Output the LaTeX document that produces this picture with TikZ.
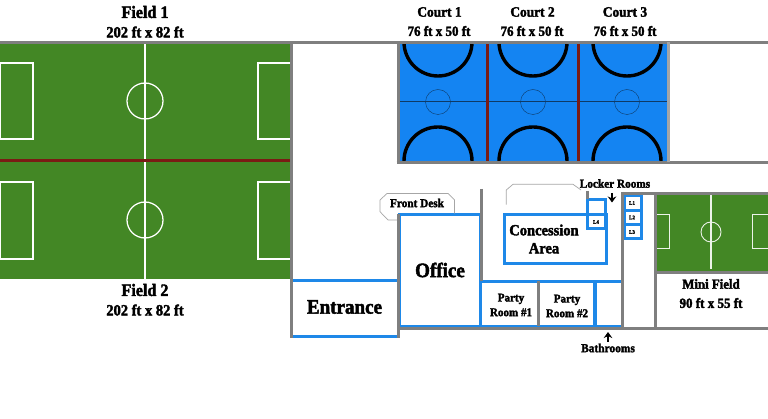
\documentclass[tikz,border=0pt]{standalone}
\usepackage{fontspec}
\setmainfont{Liberation Serif}[BoldFeatures={FakeBold=2.2,FakeStretch=0.93}]
\definecolor{wallgray}{HTML}{7F7F7F}
\definecolor{grass}{HTML}{438725}
\definecolor{maroon}{HTML}{7A1B14}
\definecolor{courtblue}{HTML}{1484F2}
\definecolor{roomblue}{HTML}{1E88E8}
\definecolor{navyline}{HTML}{0E3A66}
\definecolor{calloutgray}{HTML}{A6A6A6}
\usetikzlibrary{arrows.meta}
\tikzset{
  wall/.style={draw=wallgray,line width=3pt},
  roomline/.style={draw=roomblue,line width=3pt},
  chalk/.style={draw=white,line width=1.25pt},
  minichalk/.style={draw=white!90!grass,line width=0.9pt},
  divider/.style={draw=maroon,line width=3pt},
  hoop/.style={draw=black,line width=3.4pt},
  courtmark/.style={draw=navyline,line width=0.4pt},
  callout/.style={draw=calloutgray,line width=0.7pt},
  pointer/.style={draw=black,line width=2pt,-{Stealth[length=6pt,width=8.5pt]}},
  lab/.style={font=\bfseries,inner sep=0pt,align=center,text=black}
}
\begin{document}
\begin{tikzpicture}[x=1pt,y=-1pt]
\useasboundingbox (0,0) rectangle (768,419);
\fill[white] (0,0) rectangle (768,419);
% fields
\fill[grass] (0,43) rectangle (290,279);
\draw[chalk] (145,43) -- (145,279);
\foreach \cy/\ya/\yb in {101/63/139,220/182/259}{
  \draw[chalk] (145,\cy) circle (18);
  \draw[chalk] (0.8,\ya) rectangle (33,\yb);
  \draw[chalk] (290,\ya) -- (258,\ya) -- (258,\yb) -- (290,\yb);
}
\draw[divider] (0,160.5) -- (290,160.5);
% courts
\fill[courtblue] (398,43) rectangle (668,162);
\begin{scope}
  \clip (398,43) rectangle (668,162);
  \foreach \cx in {438,533,627}{
    \draw[hoop] (\cx,42) circle (34);
    \draw[hoop] (\cx,161) circle (34);
    \draw[courtmark] (\cx,102) circle (12.5);
  }
\end{scope}
\draw[draw=navyline,line width=1pt] (399,102) -- (667,102);
\draw[divider] (487,43) -- (487,162);
\draw[divider] (578,43) -- (578,162);
% mini field
\fill[grass] (655,194) rectangle (768,272);
\draw[minichalk,line width=1.1pt] (711,194) -- (711,269);
\draw[minichalk] (711,232) circle (10);
\draw[minichalk] (656,214) -- (669.7,214) -- (669.7,248) -- (656,248);
\draw[minichalk] (768,214) -- (752.7,214) -- (752.7,248) -- (768,248);
% blue rooms
\draw[roomline] (399.5,215) rectangle (480,326.5);
\draw[roomline] (291,280.5) -- (397,280.5);
\draw[roomline] (291,336.5) -- (397,336.5);
\draw[roomline] (481,281.5) -- (621,281.5);
\draw[roomline] (481,326.5) -- (621,326.5);
\draw[roomline,line width=4pt] (595,281.5) -- (595,326.5);
\draw[roomline] (504,214.5) rectangle (606,263.5);
\draw[roomline] (587.5,200) rectangle (605.5,229);
\draw[roomline] (587.5,214.5) -- (605.5,214.5);
\draw[roomline] (624,196) rectangle (641,239);
\draw[roomline] (624,210.5) -- (641,210.5);
\draw[roomline] (624,225) -- (641,225);
% walls
\draw[wall] (0,42.5) -- (768,42.5);
\draw[wall] (291.5,42.5) -- (291.5,338);
\draw[wall] (398,42.5) -- (398,163);
\draw[wall] (396.5,162.5) -- (768,162.5);
\draw[wall,draw=wallgray!70] (668,42.5) -- (668,162);
\draw[wall] (398,214) -- (398,338);
\draw[wall] (397,328.5) -- (768,328.5);
\draw[wall] (481,189) -- (481,281);
\draw[wall] (538.7,281) -- (538.7,326);
\draw[wall] (587,191) -- (587,199);
\draw[wall] (622.5,192) -- (622.5,328);
\draw[wall] (621,193.5) -- (768,193.5);
\draw[wall] (655,193) -- (655,328);
\draw[wall] (655,272.5) -- (768,272.5);
% callouts
\draw[callout] (397,220) -- (388,220) -- (380,211.7) -- (380,200) -- (387,193.5) -- (448,193.5) -- (454.5,200) -- (454.5,213.5);
\draw[callout] (506.3,204.7) -- (506.3,190) -- (513,184.3) -- (573,184.3) -- (581,190);
% labels
\node[lab,font=\bfseries\fontsize{17.3}{17.3}\selectfont] (field1) at (145,12) {Field 1};
\node[lab,font=\bfseries\fontsize{15.6}{15.6}\selectfont] (field1size) at (145,32) {202 ft x 82 ft};
\node[lab,font=\bfseries\fontsize{17.3}{17.3}\selectfont] (field2) at (145,290) {Field 2};
\node[lab,font=\bfseries\fontsize{15.6}{15.6}\selectfont] (field2size) at (145,310) {202 ft x 82 ft};
\node[lab,font=\bfseries\fontsize{14.4}{14.4}\selectfont] (court1) at (439.5,12) {Court 1};
\node[lab,font=\bfseries\fontsize{14.4}{14.4}\selectfont] (court2) at (532.5,12) {Court 2};
\node[lab,font=\bfseries\fontsize{14.4}{14.4}\selectfont] (court3) at (625,12) {Court 3};
\node[lab,font=\bfseries\fontsize{14}{14}\selectfont] (court1size) at (439,31) {76 ft x 50 ft};
\node[lab,font=\bfseries\fontsize{14}{14}\selectfont] (court2size) at (532,31) {76 ft x 50 ft};
\node[lab,font=\bfseries\fontsize{14}{14}\selectfont] (court3size) at (625,31) {76 ft x 50 ft};
\node[lab,font=\bfseries\fontsize{20.5}{20.5}\selectfont] (entrance) at (344.5,307) {Entrance};
\node[lab,font=\bfseries\fontsize{20.5}{20.5}\selectfont] (office) at (440,270) {Office};
\node[lab,font=\bfseries\fontsize{12.1}{12.1}\selectfont] (frontdesk) at (417,203) {Front Desk};
\node[lab,font=\bfseries\fontsize{15.6}{18}\selectfont] (concession) at (544,239) {Concession\\Area};
\node[lab,font=\bfseries\fontsize{11.9}{14.7}\selectfont] (party1) at (511,305) {Party\\Room \#1};
\node[lab,font=\bfseries\fontsize{11.9}{14.7}\selectfont] (party2) at (567,306) {Party\\Room \#2};
\node[lab,font=\bfseries\fontsize{12.1}{12.1}\selectfont] (lockers) at (615,183.5) {Locker Rooms};
\node[lab,font=\bfseries\fontsize{12.3}{12.3}\selectfont] (bathrooms) at (608,348) {Bathrooms};
\node[lab,font=\bfseries\fontsize{5.5}{5.5}\selectfont] (l1) at (632,203) {L1};
\node[lab,font=\bfseries\fontsize{5.5}{5.5}\selectfont] (l2) at (632,217.5) {L2};
\node[lab,font=\bfseries\fontsize{5.5}{5.5}\selectfont] (l3) at (632,232) {L3};
\node[lab,font=\bfseries\fontsize{5.5}{5.5}\selectfont] (l4) at (596,222) {L4};
\node[lab,font=\bfseries\fontsize{13.8}{13.8}\selectfont] (minifield) at (711,284) {Mini Field};
\node[lab,font=\bfseries\fontsize{14}{14}\selectfont] (minisize) at (711,303) {90 ft x 55 ft};
% pointers
\coordinate (lockerdoor) at (612,202.5);
\coordinate (lockerstart) at (612,193);
\coordinate (bathdoor) at (608,332);
\coordinate (bathstart) at (608,342);
\draw[pointer] (lockerstart) -- (lockerdoor);
\draw[pointer] (bathstart) -- (bathdoor);
\end{tikzpicture}
\end{document}
